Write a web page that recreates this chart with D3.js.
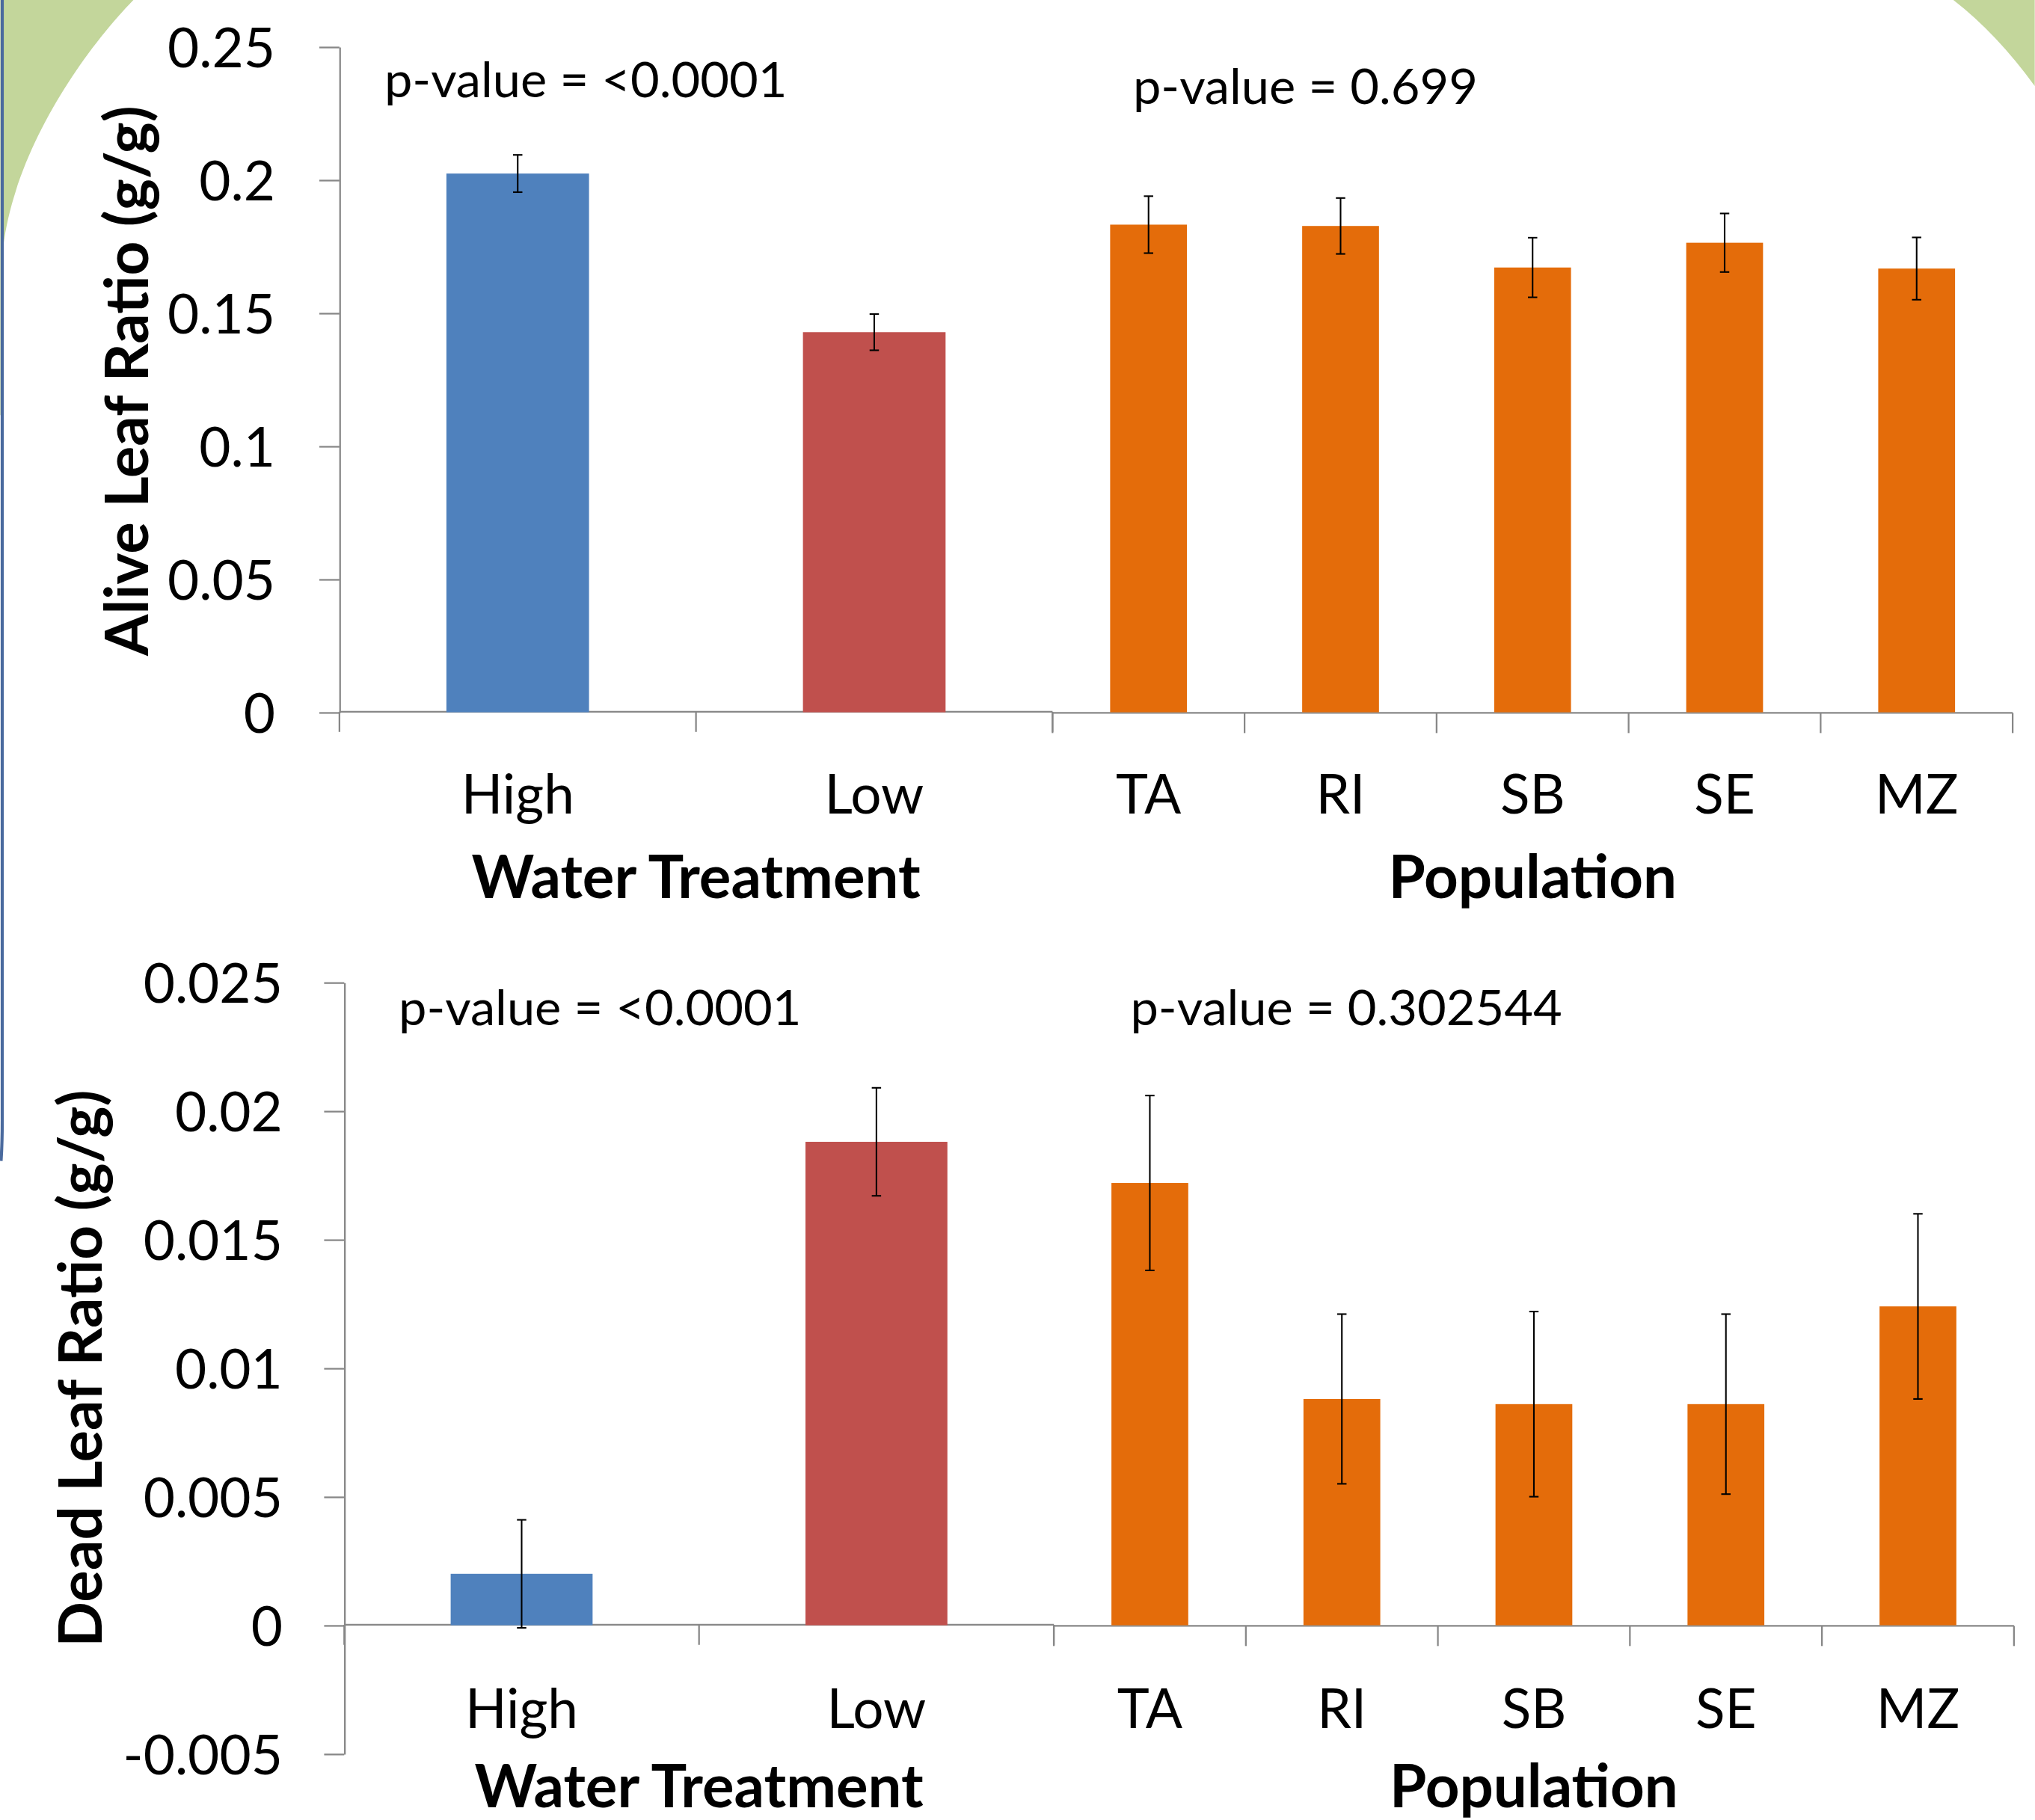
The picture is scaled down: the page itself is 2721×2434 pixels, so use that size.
<!DOCTYPE html>
<html>
<head>
<meta charset="utf-8">
<script src="https://cdn.jsdelivr.net/npm/d3@7"></script>
<style>
  html, body { margin: 0; padding: 0; background: #ffffff; }
  svg { display: block; }
</style>
</head>
<body>
<div id="chart"></div>
<script>
// ---------------- DATA ----------------
const waterCategories = ["High", "Low"];
const populationCategories = ["TA", "RI", "SB", "SE", "MZ"];

const aliveWaterValues = [0.2024, 0.1428];
const aliveWaterErrors = [0.0070, 0.0068];
const alivePopulationValues = [0.1832, 0.1827, 0.1671, 0.1764, 0.1667];
const alivePopulationErrors = [0.0107, 0.0105, 0.0112, 0.0110, 0.0117];

const deadWaterValues = [0.0020, 0.0188];
const deadWaterErrors = [0.0021, 0.0021];
const deadPopulationValues = [0.0172, 0.0088, 0.0086, 0.0086, 0.0124];
const deadPopulationErrors = [0.0034, 0.0033, 0.0036, 0.0035, 0.0036];

const aliveTicks = [0, 0.05, 0.1, 0.15, 0.2, 0.25];
const deadTicks = [-0.005, 0, 0.005, 0.01, 0.015, 0.02, 0.025];

const aliveTitle = "Alive Leaf Ratio (g/g)";
const deadTitle = "Dead Leaf Ratio (g/g)";
const waterTitle = "Water Treatment";
const populationTitle = "Population";
const alivePValues = ["p-value = <0.0001", "p-value = 0.699"];
const deadPValues = ["p-value = <0.0001", "p-value = 0.302544"];

// ---------------- STYLE ----------------
const W = 2721, H = 2434;
const VW = 1568, VH = 1403;
const FONT = "Lato, 'Open Sans', sans-serif";
const AXIS_COLOR = "#878787";
const BLUE = "#4f81bd", RED = "#c0504d", ORANGE = "#e46c0a";
const TICK_FS = 42, TITLE_FS = 46, P_FS = 38.5;

const svg = d3.select("#chart").append("svg")
  .attr("width", W).attr("height", H)
  .attr("viewBox", `0 0 ${VW} ${VH}`)
  .attr("font-family", FONT);

svg.append("rect").attr("width", VW).attr("height", VH).attr("fill", "#ffffff");

// background decoration (green corners, blue edge)
svg.append("path")
  .attr("d", "M0,0 L102.6,0 C63.4,40.3 11.5,115.3 2.3,190.2 L1.2,320 L0,320 Z")
  .attr("fill", "#c3d69b");
svg.append("path")
  .attr("d", "M1505.3,0 Q1538.7,25.9 1568,66.3 L1568,0 Z")
  .attr("fill", "#c3d69b");
svg.append("path")
  .attr("d", "M1.5,0 L1.5,860 Q1.6,880 0.6,895")
  .attr("fill", "none").attr("stroke", "#4a6a9e").attr("stroke-width", 2.4);

function panel(cfg) {
  const g = svg.append("g");
  const y = d3.scaleLinear().domain(cfg.domain).range([cfg.yBottom, cfg.yTop]);
  const y0 = y(0);
  const tickLen = 15.5;

  // y axis
  const yAxis = d3.axisLeft(y)
    .tickValues(cfg.ticks)
    .tickSize(tickLen)
    .tickSizeOuter(0)
    .tickPadding(cfg.tickPad)
    .tickFormat(d => String(d));
  const ya = g.append("g").attr("transform", `translate(${cfg.xLeft},0)`).call(yAxis);
  ya.select(".domain").attr("stroke", AXIS_COLOR).attr("stroke-width", 1.3);
  ya.selectAll(".tick line").attr("stroke", AXIS_COLOR).attr("stroke-width", 1.3);
  ya.selectAll(".tick text")
    .attr("font-size", TICK_FS).attr("fill", "#000").attr("font-family", FONT)
    .attr("dy", "0.36em");

  // y axis title
  g.append("text")
    .attr("transform", `translate(${cfg.titleX},${cfg.titleY}) rotate(-90)`)
    .attr("text-anchor", "middle")
    .attr("font-size", TITLE_FS).attr("font-weight", "bold")
    .text(cfg.title);

  function group(cats, vals, errs, colors, x0, x1, groupTitle, groupY, pText, pX, pY, yOff) {
    const x = d3.scaleBand().domain(cats).range([x0, x1])
      .paddingInner(0.6).paddingOuter(0.3);
    const step = x.step();
    const gg = g.append("g");
    // x axis line
    gg.append("line")
      .attr("x1", x0).attr("x2", x1)
      .attr("y1", y0 + yOff).attr("y2", y0 + yOff)
      .attr("stroke", AXIS_COLOR).attr("stroke-width", 1.3);
    // boundary ticks
    const bounds = d3.range(cats.length + 1).map(i => x0 + i * step);
    gg.selectAll("line.bt").data(bounds).join("line")
      .attr("class", "bt")
      .attr("x1", d => d).attr("x2", d => d)
      .attr("y1", y0 + yOff).attr("y2", y0 + yOff + tickLen)
      .attr("stroke", AXIS_COLOR).attr("stroke-width", 1.3);
    // bars
    gg.selectAll("rect.bar").data(cats).join("rect")
      .attr("class", "bar")
      .attr("x", d => x(d))
      .attr("width", x.bandwidth())
      .attr("y", (d, i) => Math.min(y(vals[i]), y0))
      .attr("height", (d, i) => Math.abs(y0 - y(vals[i])))
      .attr("fill", (d, i) => colors[i % colors.length]);
    // error bars
    const cap = 3.6;
    cats.forEach((d, i) => {
      const cx = x(d) + x.bandwidth() / 2;
      const top = y(vals[i] + errs[i]), bot = y(vals[i] - errs[i]);
      gg.append("line").attr("x1", cx).attr("x2", cx).attr("y1", top).attr("y2", bot)
        .attr("stroke", "#000").attr("stroke-width", 1.2);
      [top, bot].forEach(v => gg.append("line")
        .attr("x1", cx - cap).attr("x2", cx + cap).attr("y1", v).attr("y2", v)
        .attr("stroke", "#000").attr("stroke-width", 1.2));
    });
    // category labels
    const xAxis = d3.axisBottom(x).tickSize(0);
    const xa = gg.append("g").attr("transform", `translate(0,${y0})`).call(xAxis);
    xa.select(".domain").remove();
    xa.selectAll(".tick text")
      .attr("font-size", TICK_FS).attr("fill", "#000").attr("font-family", FONT)
      .attr("dy", null).attr("y", cfg.catOffset);
    // group title
    gg.append("text")
      .attr("x", (x0 + x1) / 2).attr("y", groupY)
      .attr("text-anchor", "middle")
      .attr("font-size", TITLE_FS).attr("font-weight", "bold")
      .text(groupTitle);
    // p-value
    gg.append("text")
      .attr("x", pX).attr("y", pY)
      .attr("font-size", P_FS)
      .text(pText);
  }

  group(waterCategories, cfg.wVals, cfg.wErrs, [BLUE, RED], cfg.xLeft, cfg.xMid,
    waterTitle, cfg.groupY1, cfg.pTexts[0], cfg.p1X, cfg.pY, -0.4);
  group(populationCategories, cfg.pVals, cfg.pErrs, [ORANGE], cfg.xMid, cfg.xRight,
    populationTitle, cfg.groupY2, cfg.pTexts[1], cfg.p2X, cfg.pY2, 0.5);
}

panel({
  domain: [0, 0.25], ticks: aliveTicks, yBottom: 549.1, yTop: 36.1,
  xLeft: 261.4, xMid: 811, xRight: 1551, tickPad: 34,
  title: aliveTitle, titleX: 114, titleY: 293.5,
  wVals: aliveWaterValues, wErrs: aliveWaterErrors,
  pVals: alivePopulationValues, pErrs: alivePopulationErrors,
  catOffset: 78, groupY1: 692, groupY2: 692,
  pTexts: alivePValues, p1X: 296, p2X: 873, pY: 75, pY2: 80
});

panel({
  domain: [-0.005, 0.025], ticks: deadTicks, yBottom: 1352.0, yTop: 757.3,
  xLeft: 265.1, xMid: 812, xRight: 1552, tickPad: 32,
  title: deadTitle, titleX: 78, titleY: 1055,
  wVals: deadWaterValues, wErrs: deadWaterErrors,
  pVals: deadPopulationValues, pErrs: deadPopulationErrors,
  catOffset: 79, groupY1: 1393, groupY2: 1393,
  pTexts: deadPValues, p1X: 307, p2X: 871, pY: 790, pY2: 790
});
</script>
</body>
</html>
